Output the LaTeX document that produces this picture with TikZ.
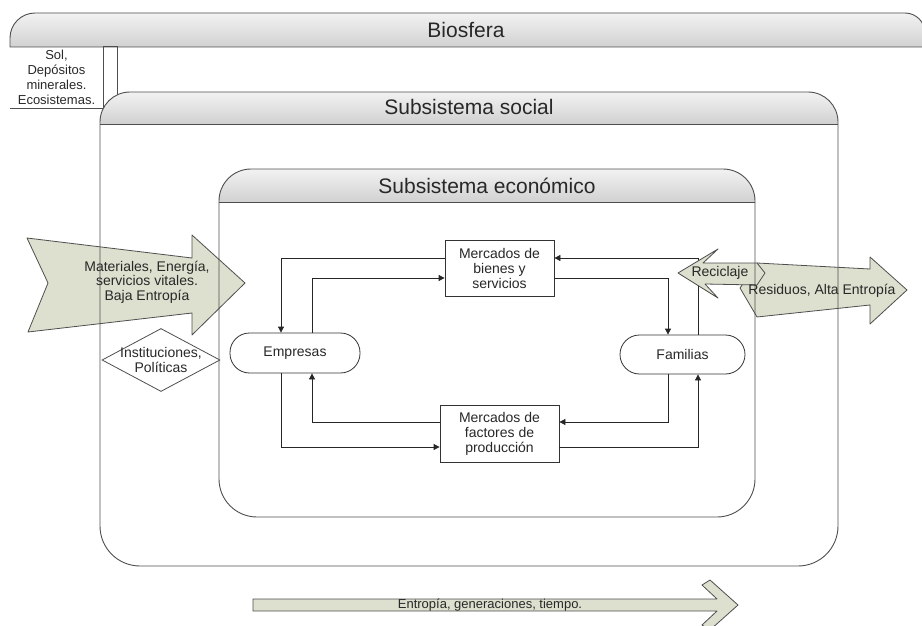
\documentclass[tikz,border=0pt]{standalone}
\usepackage{fontspec}
\setmainfont{Liberation Sans}
\usetikzlibrary{shapes.geometric,arrows.meta}
\definecolor{arrfill}{RGB}{221,223,207}
\definecolor{linec}{RGB}{78,78,78}
\definecolor{txtc}{RGB}{40,40,40}
\begin{document}
\begin{tikzpicture}[x=1pt,y=-1pt,
  boxline/.style={draw=linec, line width=0.9pt},
  hdr/.style={top color=gray!10, bottom color=gray!36},
  conn/.style={draw=black!85, line width=0.8pt, -{Triangle[length=6pt,width=6pt]}},
  flow/.style={draw=linec, fill=arrfill, line width=0.8pt, line join=round},
  proc/.style={draw=black!80, line width=0.8pt, fill=white, inner sep=0pt,
    font=\fontsize{14}{15}\selectfont, align=center, text=txtc},
  term/.style={proc, rounded corners=19.5pt},
  ttl/.style={font=\fontsize{21}{24}\selectfont, text=txtc},
  small/.style={font=\fontsize{14}{14.5}\selectfont, text=txtc, align=center},
  tiny/.style={font=\fontsize{13}{15}\selectfont, text=txtc, align=center}]
\useasboundingbox (0,0) rectangle (922,626);

% ---------- process nodes ----------
\node[proc, minimum width=109pt, minimum height=56pt] (mb) at (499.5,268) {Mercados de\\bienes y\\servicios};
\node[proc, minimum width=119pt, minimum height=57pt] (mf) at (499.5,433.5) {Mercados de\\factores de\\producción};
\node[term, minimum width=130pt, minimum height=40pt] (emp) at (295,353) {Empresas};
\node[term, minimum width=125pt, minimum height=39pt] (fam) at (682.5,354.5) {Familias};

% ---------- connectors ----------
\draw[conn] (mb.west|-0,258) -| (281,0|-emp.north);
\draw[conn] (312,0|-emp.north) |- (mb.west|-0,278);
\draw[conn] (mb.east|-0,278) -| (668,0|-fam.north);
\draw[conn] (698,0|-fam.north) |- (mb.east|-0,258);
\draw[conn] (mf.west|-0,422) -| (312,0|-emp.south);
\draw[conn] (281,0|-emp.south) |- (mf.west|-0,447);
\draw[conn] (668,0|-fam.south) |- (mf.east|-0,422);
\draw[conn] (mf.east|-0,447) -| (698,0|-fam.south);

% ---------- flow arrows ----------
\draw[flow] (27,238) -- (192,258) -- (192,235) -- (245,283) -- (192,335) -- (192,313) -- (28,332) -- (48,283) -- cycle;
\draw[flow] (740,288) -- (757,263) -- (870,269) -- (870,257) -- (907,290) -- (870,324) -- (870,305) -- (757,317) -- cycle;
\draw[flow] (678,273) -- (718,249) -- (703,263) -- (757,263) -- (765,273) -- (757,285) -- (705,284) -- (718,298) -- cycle;
\draw[flow] (253,599) -- (717,599) -- (702,585) -- (710,580) -- (738,605) -- (710,630) -- (702,625) -- (717,611) -- (253,611) -- cycle;

% ---------- Biosfera ----------
\shade[hdr] (10,47) -- (10,38) arc[start angle=180,end angle=270,radius=25] -- (905,13) arc[start angle=270,end angle=360,radius=20] -- (925,47) -- cycle;
\draw[boxline] (10,47) -- (10,38) arc[start angle=180,end angle=270,radius=25] -- (905,13) arc[start angle=270,end angle=360,radius=20] -- (925,47) -- cycle;
\node[tiny, minimum width=93pt, minimum height=61pt, inner sep=0pt] (sol) at (56.5,77.5) {Sol,\\Depósitos\\minerales.\\Ecosistemas.};
\draw[boxline] (sol.south west) -- (sol.south east);
\draw[boxline] (sol.north east) rectangle (117,108);

% ---------- Subsistema social ----------
\shade[hdr] (100,124) -- (100,122) arc[start angle=180,end angle=270,radius=30] -- (808,92) arc[start angle=270,end angle=360,radius=30] -- (838,124) -- cycle;
\draw[boxline] (100,122) arc[start angle=180,end angle=270,radius=30] -- (808,92) arc[start angle=270,end angle=360,radius=30]
  -- (838,526) arc[start angle=0,end angle=90,radius=40] -- (140,566) arc[start angle=90,end angle=180,radius=40] -- cycle;
\draw[boxline] (100,124) -- (838,124);

% ---------- Subsistema economico ----------
\shade[hdr] (219,202) -- (219,201) arc[start angle=180,end angle=270,radius=32] -- (723,169) arc[start angle=270,end angle=360,radius=32] -- (755,202) -- cycle;
\draw[boxline] (219,201) arc[start angle=180,end angle=270,radius=32] -- (723,169) arc[start angle=270,end angle=360,radius=32]
  -- (755,479) arc[start angle=0,end angle=90,radius=38] -- (257,517) arc[start angle=90,end angle=180,radius=38] -- cycle;
\draw[boxline] (219,202) -- (755,202);

% ---------- institutions ----------
\node[draw=linec, line width=0.8pt, fill=white, diamond, minimum width=118pt, minimum height=63pt, inner sep=0pt] (inst) at (161,360) {};
\node[small] at (inst) {Instituciones,\\Políticas};

% ---------- titles ----------
\node[ttl] (tbio) at (466,30) {Biosfera};
\node[ttl] (tsoc) at (469,107) {Subsistema social};
\node[ttl] (teco) at (487,186) {Subsistema económico};

% ---------- arrow texts ----------
\node[small] (tmat) at (147,282) {Materiales, Energía,\\servicios vitales.\\Baja Entropía};
\node[small] (tres) at (822,291) {Residuos, Alta Entropía};
\node[small] (trec) at (720,273) {Reciclaje};
\node[tiny] (tent) at (490,605) {Entropía, generaciones, tiempo.};
\end{tikzpicture}
\end{document}
